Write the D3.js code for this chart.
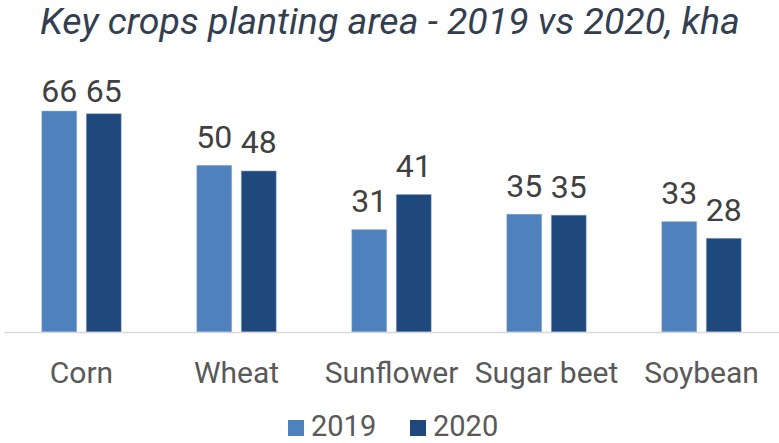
<!DOCTYPE html>
<html>
<head>
<meta charset="utf-8">
<script src="https://cdn.jsdelivr.net/npm/d3@7"></script>
<style>
  body { margin: 0; background: #fff; }
  text { font-family: Roboto, "Liberation Sans", sans-serif; }
</style>
</head>
<body>
<div id="chart"></div>
<script>
const crops = ["Corn", "Wheat", "Sunflower", "Sugar beet", "Soybean"];
const years = ["2019", "2020"];
const area2019 = [66, 49.8, 30.6, 35.2, 33];
const area2020 = [65.2, 48.1, 41.1, 34.9, 28];
const colors = ["#4f81bd", "#1f497d"];

const fullwidth = 779;
const fullheight = 443;
const baseline = 332;

const series = [area2019, area2020];

const svg = d3.select("#chart").
append("svg").
attr("width", fullwidth).
attr("height", fullheight);

const x0 = d3.scaleBand().
domain(crops).
range([4, 779]).
padding(0);

const groupWidth = 79.5;
const x1 = d3.scaleBand().
domain(years).
range([(x0.bandwidth() - groupWidth) / 2, (x0.bandwidth() + groupWidth) / 2]).
paddingInner(0.213);

const y = d3.scaleLinear().
domain([0, 66]).
range([baseline, 111]);

// title
svg.append("text").
attr("x", 40).
attr("y", 34).
attr("fill", "#333f50").
attr("font-size", 37.5).
attr("font-style", "italic").
text("Key crops planting area - 2019 vs 2020, kha");

// bars
years.forEach(function (yr, s) {
  const g = svg.append("g");
  g.selectAll("rect").
  data(series[s]).
  enter().
  append("rect").
  attr("x", (d, i) => x0(crops[i]) + x1(yr)).
  attr("y", d => y(d)).
  attr("width", x1.bandwidth()).
  attr("height", d => baseline - y(d)).
  attr("fill", colors[s]).
  attr("stroke", "#a9bfdc").
  attr("stroke-opacity", 0.6).
  attr("stroke-width", 0.8);

  // labels sit above the bar, but not above the top of the plot
  g.selectAll("text").
  data(series[s]).
  enter().
  append("text").
  attr("x", (d, i) => x0(crops[i]) + x1(yr) + x1.bandwidth() / 2).
  attr("y", d => Math.max(y(d) - 17.5, 101.7)).
  attr("text-anchor", "middle").
  attr("fill", "#404040").
  attr("font-size", 32).
  text(d => Math.round(d));
});

// x axis
const xAxis = d3.axisBottom(x0).tickSize(0).tickPadding(0);
const ax = svg.append("g").
attr("transform", "translate(0," + baseline + ")").
call(xAxis);
ax.select(".domain").attr("stroke", "#d9d9d9").attr("stroke-width", 1.5);
ax.selectAll(".tick text").
attr("y", 51).
attr("dy", 0).
attr("fill", "#595959").
attr("font-size", 30).
attr("font-family", "Roboto, sans-serif");

// legend
const legendX = [288, 410];
years.forEach(function (yr, s) {
  svg.append("rect").
  attr("x", legendX[s]).
  attr("y", 420).
  attr("width", 16).
  attr("height", 16).
  attr("fill", colors[s]);
  svg.append("text").
  attr("x", legendX[s] + 23).
  attr("y", 436).
  attr("fill", "#595959").
  attr("font-size", 29).
  text(yr);
});
</script>
</body>
</html>
